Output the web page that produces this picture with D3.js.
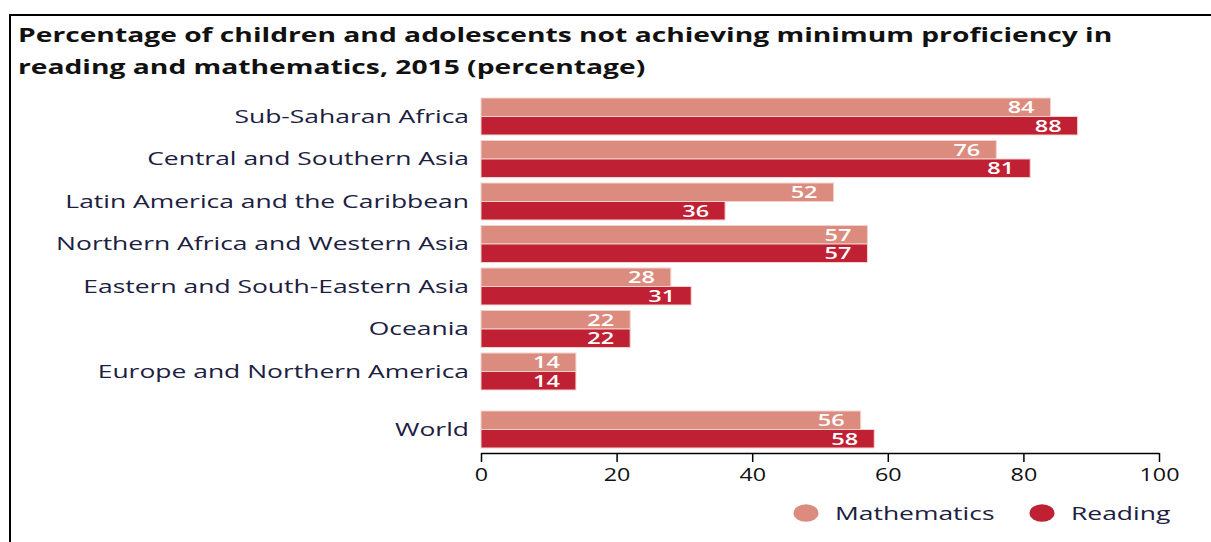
<!DOCTYPE html>
<html>
<head>
<meta charset="utf-8">
<script src="https://cdn.jsdelivr.net/npm/d3@7"></script>
<style>
  html, body { margin: 0; padding: 0; background: #fff; }
  svg { display: block; }
</style>
</head>
<body>
<svg id="chart" width="1211" height="542"></svg>
<script>
// Regions, top to bottom
const regions = [
  "Sub-Saharan Africa",
  "Central and Southern Asia",
  "Latin America and the Caribbean",
  "Northern Africa and Western Asia",
  "Eastern and South-Eastern Asia",
  "Oceania",
  "Europe and Northern America",
  "World"
];
const seriesNames = ["Mathematics", "Reading"];
const mathematics = [84, 76, 52, 57, 28, 22, 14, 56];
const reading     = [88, 81, 36, 57, 31, 22, 14, 58];
const xTicks = [0, 20, 40, 60, 80, 100];
const titleLines = [
  "Percentage of children and adolescents not achieving minimum proficiency in",
  "reading and mathematics, 2015 (percentage)"
];

const colors = { Mathematics: "#db8c7e", Reading: "#c02033" };
const textColor = "#1b2040";
const FONT = "'Open Sans', 'Noto Sans', sans-serif";
const SX = 1.47;            // wide set type: horizontal stretch of the lettering

const svg = d3.select("#chart");

// frame lines along the top and left edges
svg.append("line").attr("x1", 9).attr("x2", 1211).attr("y1", 15).attr("y2", 15)
  .attr("stroke", "#000").attr("stroke-width", 2);
svg.append("line").attr("x1", 10).attr("x2", 10).attr("y1", 14).attr("y2", 542)
  .attr("stroke", "#000").attr("stroke-width", 2);

// title, stretched so the first line runs to the right of the chart
const titleTexts = svg.append("g").selectAll("text").data(titleLines).join("text")
  .attr("x", 0).attr("y", 0)
  .attr("font-family", FONT)
  .attr("font-weight", 700)
  .attr("font-size", 19)
  .attr("fill", "#111")
  .text(d => d);
const titleWidth = titleTexts.nodes()[0].getComputedTextLength();
const titleSX = 1095 / titleWidth;
titleTexts.attr("transform", (d, i) => `translate(18,${42 + i * 32}) scale(${titleSX},1)`);

// scales
const x = d3.scaleLinear().domain([0, 100]).range([481, 1159]);
const y = d3.scaleBand().domain(regions).range([95.24, 435.24])
  .paddingInner(0.13).paddingOuter(0.065);
const worldGap = 15.5;
const yPos = r => y(r) + (r === "World" ? worldGap : 0);
const ySub = d3.scaleBand().domain(seriesNames).range([0, y.bandwidth()]);

const rows = regions.map((r, i) => ({
  region: r,
  values: [
    { series: "Mathematics", value: mathematics[i] },
    { series: "Reading", value: reading[i] }
  ]
}));

const groups = svg.append("g").selectAll("g").data(rows).join("g")
  .attr("transform", d => `translate(0,${yPos(d.region)})`);

// region labels
groups.append("text")
  .attr("transform", `translate(469,${y.bandwidth() / 2}) scale(${SX},1)`)
  .attr("dy", "0.36em")
  .attr("text-anchor", "end")
  .attr("font-family", FONT)
  .attr("font-size", 18)
  .attr("fill", textColor)
  .text(d => d.region);

// bars
const bars = groups.selectAll("g.bar").data(d => d.values).join("g").attr("class", "bar");
bars.append("rect")
  .attr("x", x(0))
  .attr("y", d => ySub(d.series))
  .attr("width", d => x(d.value) - x(0))
  .attr("height", ySub.bandwidth())
  .attr("fill", d => colors[d.series])
  .attr("stroke", "#f3d2cc")
  .attr("stroke-width", 1);

// value labels inside bar ends
bars.append("text")
  .attr("transform", d => `translate(${x(d.value) - 16},${ySub(d.series) + ySub.bandwidth() / 2}) scale(${SX},1)`)
  .attr("dy", "0.36em")
  .attr("text-anchor", "end")
  .attr("font-family", FONT)
  .attr("font-size", 16)
  .attr("font-weight", 600)
  .attr("fill", "#fff")
  .text(d => d.value);

// x axis
const axis = svg.append("g")
  .attr("transform", "translate(0,453)")
  .call(d3.axisBottom(x).tickValues(xTicks).tickSize(9).tickSizeOuter(0).tickPadding(6));
axis.select(".domain").attr("stroke", "#000").attr("stroke-width", 1.5);
axis.selectAll(".tick line").attr("stroke", "#000").attr("stroke-width", 1.5);
axis.selectAll(".tick text")
  .attr("font-family", FONT)
  .attr("font-size", 18)
  .attr("fill", "#111")
  .attr("transform", `scale(${SX * 0.88},1)`);

// legend
const legendItems = [
  { name: "Mathematics", cx: 806 },
  { name: "Reading", cx: 1042 }
];
const legend = svg.append("g").selectAll("g").data(legendItems).join("g");
legend.append("ellipse")
  .attr("cx", d => d.cx).attr("cy", 513).attr("rx", 12.5).attr("ry", 8.8)
  .attr("fill", d => colors[d.name]);
legend.append("text")
  .attr("transform", d => `translate(${d.cx + 29},514) scale(${SX},1)`)
  .attr("dy", "0.36em")
  .attr("font-family", FONT)
  .attr("font-size", 18)
  .attr("fill", textColor)
  .text(d => d.name);
</script>
</body>
</html>
